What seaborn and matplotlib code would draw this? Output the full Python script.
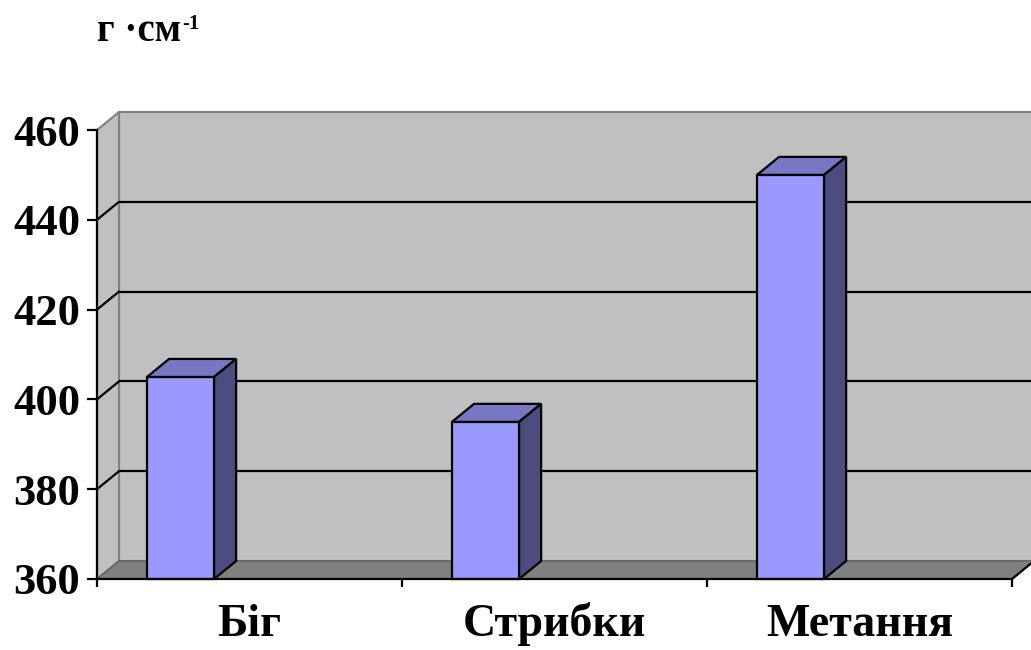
import matplotlib
matplotlib.use("Agg")
import matplotlib.pyplot as plt
import seaborn as sns
import pandas as pd
from matplotlib.patches import Polygon
from matplotlib.lines import Line2D
from matplotlib.transforms import IdentityTransform

# ---- data ----
categories = ["Біг", "Стрибки", "Метання"]
values = [405, 395, 450]
y_ticks = [360, 380, 400, 420, 440, 460]
unit_label = "г ·см"
unit_power = "-1"

# ---- layout / style ----
W, H, DPI = 1031, 650, 100
L, R, T, B = 97, 1012, 130, 579        # front plane in pixels
DX, DY = 22, 18                         # 3D depth offset in pixels
BAR_WIDTH = 0.22
BAR_SHIFT = -0.226
FRONT = "#9999FF"
TOP = "#7777C4"
SIDE = "#4C4C80"
WALL = "#C0C0C0"
FLOOR = "#808080"

sns.set_theme(style="white")
plt.rcParams['font.family'] = ['Liberation Serif', 'DejaVu Serif']
plt.rcParams['font.weight'] = 'bold'

fig = plt.figure(figsize=(W / DPI, H / DPI), dpi=DPI)
fig.patch.set_facecolor('white')
ax = fig.add_axes([L / W, 1 - B / H, (R - L) / W, (B - T) / H])
ax.set_facecolor('none')

df = pd.DataFrame({"cat": categories, "val": values})
sns.barplot(data=df, x="cat", y="val", ax=ax, width=BAR_WIDTH, color=FRONT,
            saturation=1, edgecolor="black", linewidth=1.6, zorder=5)
ax.set_xlim(-0.5, len(categories) - 0.5)
ax.set_ylim(y_ticks[0], y_ticks[-1])
ax.set_xlabel("")
ax.set_ylabel("")

x_lo, x_hi = ax.get_xlim()
y_lo, y_hi = ax.get_ylim()


def px(x, y, off=False):
    a, b = ax.transData.transform((x, y))
    if off:
        a, b = a + DX, b + DY
    return (a, b)


def poly(pts, fc, ec, lw, z):
    ax.add_patch(Polygon(pts, closed=True, facecolor=fc, edgecolor=ec, linewidth=lw,
                         transform=IdentityTransform(), zorder=z, clip_on=False))


def line(p0, p1, c, lw, z):
    ax.add_line(Line2D([p0[0], p1[0]], [p0[1], p1[1]], color=c, linewidth=lw,
                       transform=IdentityTransform(), zorder=z, clip_on=False))


# back wall
poly([px(x_lo, y_lo, True), px(x_hi, y_lo, True), px(x_hi, y_hi, True), px(x_lo, y_hi, True)],
     WALL, FLOOR, 1.5, 0)
# left wall
poly([px(x_lo, y_lo), px(x_lo, y_lo, True), px(x_lo, y_hi, True), px(x_lo, y_hi)],
     WALL, FLOOR, 1.5, 0.5)
# floor
poly([px(x_lo, y_lo), px(x_hi, y_lo), px(x_hi, y_lo, True), px(x_lo, y_lo, True)],
     FLOOR, "#606060", 1.0, 1)
line(px(x_hi, y_lo), px(x_hi, y_lo, True), "black", 1.6, 2)

# gridlines on back and left walls
for t in y_ticks[1:-1]:
    line(px(x_lo, t, True), px(x_hi, t, True), "black", 1.6, 1.5)
    line(px(x_lo, t), px(x_lo, t, True), "black", 1.6, 1.5)

# bars: shift front faces and add top / side faces
bars = [p for p in ax.patches if p.get_zorder() == 5]
for p in bars:
    p.set_x(p.get_x() + BAR_SHIFT)
    p.set_clip_on(False)
    top = p.get_height()
    p.set_y(y_lo)
    p.set_height(top - y_lo)
    x0 = p.get_x()
    x1 = x0 + p.get_width()
    poly([px(x0, top), px(x1, top), px(x1, top, True), px(x0, top, True)], TOP, "black", 1.6, 6)
    poly([px(x1, y_lo), px(x1, top), px(x1, top, True), px(x1, y_lo, True)], SIDE, "black", 1.6, 6)

# axes styling
for s in ["top", "right"]:
    ax.spines[s].set_visible(False)
for s in ["left", "bottom"]:
    ax.spines[s].set_color("black")
    ax.spines[s].set_linewidth(1.6)
    ax.spines[s].set_zorder(7)

ax.set_yticks(y_ticks)
ax.set_yticklabels([str(t) for t in y_ticks])
ax.tick_params(axis="y", direction="out", length=7.2, width=1.6, color="black",
               labelsize=32, pad=5, left=True)
boundaries = [i - 0.5 for i in range(len(categories) + 1)]
ax.set_xticks(boundaries)
ax.set_xticklabels([""] * len(boundaries))
ax.set_xticks(range(len(categories)), minor=True)
ax.set_xticklabels(categories, minor=True)
ax.tick_params(axis="x", which="major", direction="out", length=6, width=1.6, color="black", bottom=True)
ax.tick_params(axis="x", which="minor", length=0, labelsize=33, pad=41)
for lab in ax.get_yticklabels() + ax.get_xticklabels(minor=True):
    lab.set_fontweight("bold")
    lab.set_color("black")
for lab in ax.get_xticklabels(minor=True):
    lab.set_verticalalignment("baseline")

# unit label with superscript
t1 = fig.text(97 / W, 1 - 41 / H, unit_label, fontsize=28, fontweight="bold",
              va="baseline", ha="left", color="black")
r = fig.canvas.get_renderer()
bb = t1.get_window_extent(renderer=r)
fig.text((bb.x1 + 1) / W, 1 - 29 / H, unit_power, fontsize=15, fontweight="bold",
         va="baseline", ha="left", color="black")

fig.savefig("out.png", dpi=DPI, facecolor="white")
